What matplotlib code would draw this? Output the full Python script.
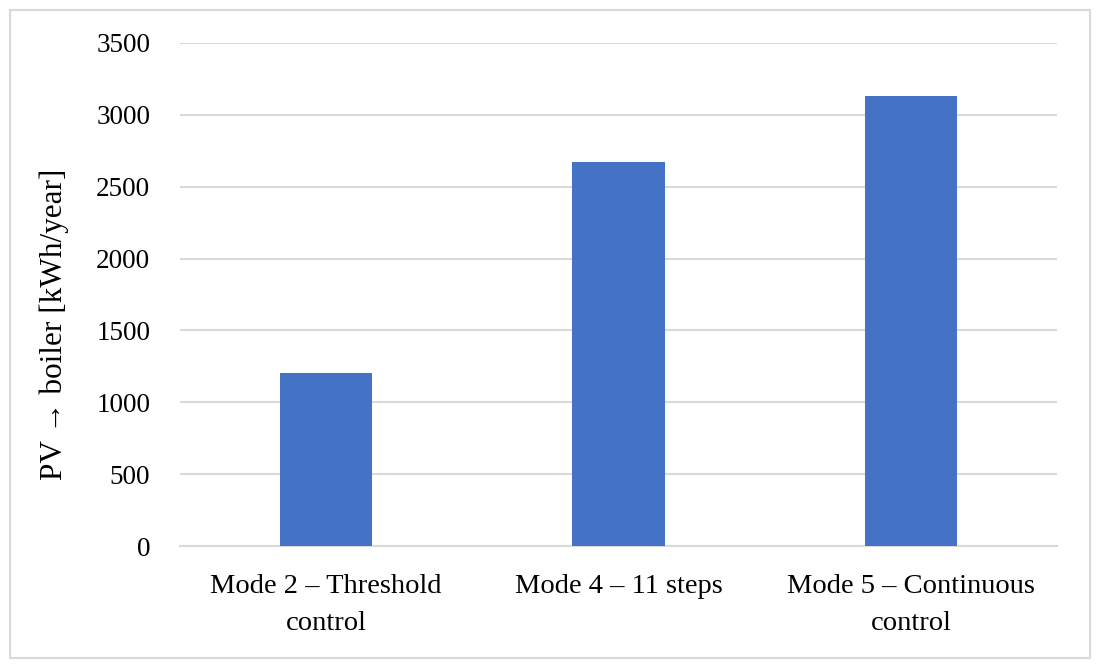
import matplotlib
matplotlib.use("Agg")
import matplotlib.pyplot as plt
from matplotlib.patches import Rectangle

categories = ["Mode 2 – Threshold\ncontrol", "Mode 4 – 11 steps", "Mode 5 – Continuous\ncontrol"]
values = [1205, 2672, 3130]
yticks = [0, 500, 1000, 1500, 2000, 2500, 3000, 3500]

plt.rcParams['font.family'] = ['Liberation Serif', 'DejaVu Serif']

W, H = 1100, 668
fig = plt.figure(figsize=(W/100, H/100), dpi=100)
ax = fig.add_axes([180/W, 1-546/H, (1057-180)/W, (546-43)/H])

x = list(range(len(categories)))
ax.bar(x, values, width=0.315, color='#4472C4', zorder=3)
ax.set_xlim(-0.5, 2.5)
ax.set_ylim(0, 3500)
ax.set_yticks(yticks)
ax.set_yticklabels([str(t) for t in yticks], fontsize=19.5)
ax.set_xticks(x)
ax.set_xticklabels(categories, fontsize=20.5, linespacing=1.62)
ax.yaxis.grid(True, color='#d9d9d9', linewidth=1.5, zorder=0)
for s in ['top', 'right', 'left']:
    ax.spines[s].set_visible(False)
ax.spines['bottom'].set_color('#d9d9d9')
ax.spines['bottom'].set_linewidth(1.5)
ax.tick_params(axis='both', length=0, colors='black')
ax.tick_params(axis='y', pad=21.5)
ax.tick_params(axis='x', pad=20)
ax.set_ylabel("PV → boiler [kWh/year]", fontsize=22.5)
ax.yaxis.set_label_coords(-0.127, 0.44)

fig.patches.append(Rectangle((10/W, 10/H), (1090-10)/W, (658-10)/H, transform=fig.transFigure,
                             fill=False, edgecolor='#d9d9d9', linewidth=1.5))
fig.savefig("out.png", dpi=100)
